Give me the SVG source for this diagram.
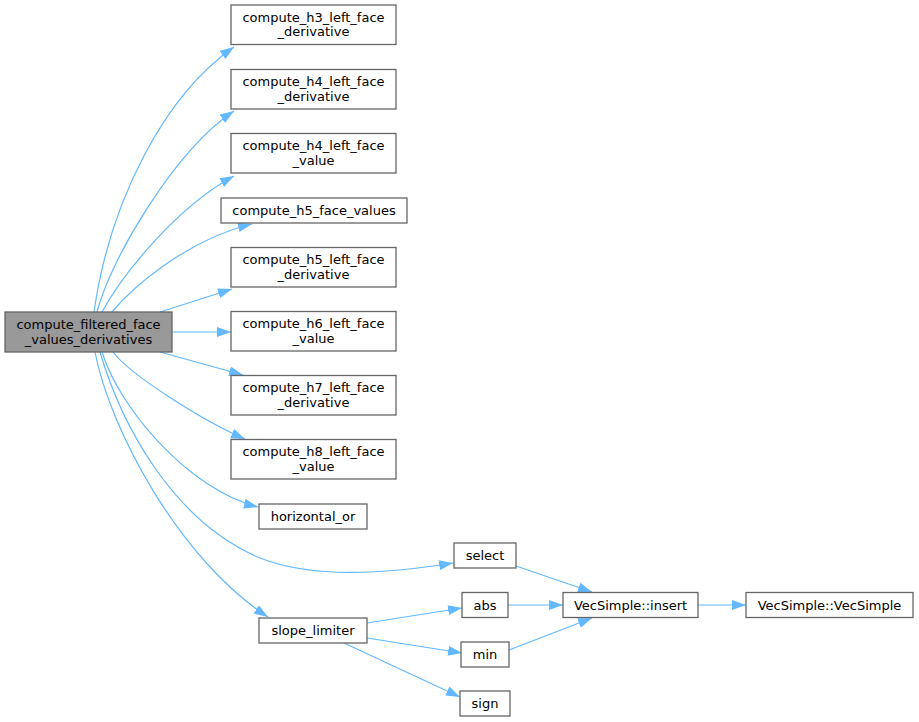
<svg xmlns="http://www.w3.org/2000/svg" width="919" height="722" viewBox="0 0 919 722">
<defs>
<style>
.n rect{fill:#ffffff;stroke:#666666;stroke-width:1.3}
#main rect{fill:#999999}
text{font-family:"DejaVu Sans","Liberation Sans",sans-serif;font-size:13px;fill:#000000;text-anchor:middle}
.e path{fill:none;stroke:#63b8ff;stroke-width:1.2}
</style>
<marker id="ah" markerUnits="userSpaceOnUse" markerWidth="15" markerHeight="11" refX="14" refY="5" orient="auto">
<path d="M0,0 L14,5 L0,10 Z" fill="#63b8ff"/>
</marker>
</defs>
<rect width="919" height="722" fill="#ffffff"/>
<g class="e">
<path d="M94,312 C110,200 165,95 234,47" marker-end="url(#ah)"/>
<path d="M97,312 C110,260 175,150 234,111" marker-end="url(#ah)"/>
<path d="M102,312 C125,270 180,205 234,176" marker-end="url(#ah)"/>
<path d="M112,312 C130,290 185,240 252,224" marker-end="url(#ah)"/>
<path d="M160,312 L232,289" marker-end="url(#ah)"/>
<path d="M172,332 L231,332" marker-end="url(#ah)"/>
<path d="M160,352 L243,375" marker-end="url(#ah)"/>
<path d="M113,352 C130,375 205,422 245,439" marker-end="url(#ah)"/>
<path d="M102,352 C120,410 190,490 258,507" marker-end="url(#ah)"/>
<path d="M100,352 C120,420 170,520 260,558 C310,578 380,575 453,563" marker-end="url(#ah)"/>
<path d="M95,352 C110,430 180,560 268,617" marker-end="url(#ah)"/>
<path d="M516,566 L592,592" marker-end="url(#ah)"/>
<path d="M508,605 L563,605" marker-end="url(#ah)"/>
<path d="M509,650 L592,618" marker-end="url(#ah)"/>
<path d="M698,605 L746,605" marker-end="url(#ah)"/>
<path d="M367,623 L462,608" marker-end="url(#ah)"/>
<path d="M367,638 L462,653" marker-end="url(#ah)"/>
<path d="M344,643 L460,697" marker-end="url(#ah)"/>
</g>
<g id="main" class="n"><rect x="5" y="312" width="167" height="40"/><text x="88.5" y="329">compute_filtered_face</text><text x="88.5" y="343.5">_values_derivatives</text></g>
<g id="h3d" class="n"><rect x="231" y="5" width="165" height="39.5"/><text x="313.5" y="21.5">compute_h3_left_face</text><text x="313.5" y="36">_derivative</text></g>
<g id="h4d" class="n"><rect x="231" y="69.5" width="165" height="39.5"/><text x="313.5" y="86">compute_h4_left_face</text><text x="313.5" y="100.5">_derivative</text></g>
<g id="h4v" class="n"><rect x="231" y="133.5" width="165" height="39.5"/><text x="313.5" y="150">compute_h4_left_face</text><text x="313.5" y="164.5">_value</text></g>
<g id="h5fv" class="n"><rect x="221" y="198" width="186" height="25"/><text x="314" y="215">compute_h5_face_values</text></g>
<g id="h5d" class="n"><rect x="231" y="247.5" width="165" height="39.5"/><text x="313.5" y="264">compute_h5_left_face</text><text x="313.5" y="278.5">_derivative</text></g>
<g id="h6v" class="n"><rect x="231" y="311.5" width="165" height="39.5"/><text x="313.5" y="328">compute_h6_left_face</text><text x="313.5" y="342.5">_value</text></g>
<g id="h7d" class="n"><rect x="231" y="375.5" width="165" height="39.5"/><text x="313.5" y="392">compute_h7_left_face</text><text x="313.5" y="406.5">_derivative</text></g>
<g id="h8v" class="n"><rect x="231" y="439.5" width="165" height="39.5"/><text x="313.5" y="456">compute_h8_left_face</text><text x="313.5" y="470.5">_value</text></g>
<g id="hor" class="n"><rect x="259" y="504" width="108" height="25"/><text x="313" y="521">horizontal_or</text></g>
<g id="select" class="n"><rect x="454" y="543" width="62" height="25"/><text x="485" y="560">select</text></g>
<g id="slope" class="n"><rect x="259" y="618" width="108" height="25"/><text x="313" y="635">slope_limiter</text></g>
<g id="abs" class="n"><rect x="462" y="592.5" width="46" height="25"/><text x="485" y="609.5">abs</text></g>
<g id="min" class="n"><rect x="461" y="642" width="48" height="25"/><text x="485" y="659">min</text></g>
<g id="sign" class="n"><rect x="460" y="691" width="50" height="25"/><text x="485" y="708">sign</text></g>
<g id="insert" class="n"><rect x="563" y="592.5" width="135" height="25"/><text x="630.5" y="609.5">VecSimple::insert</text></g>
<g id="vecsimple" class="n"><rect x="746" y="592.5" width="167" height="25"/><text x="829.5" y="609.5">VecSimple::VecSimple</text></g>
</svg>
